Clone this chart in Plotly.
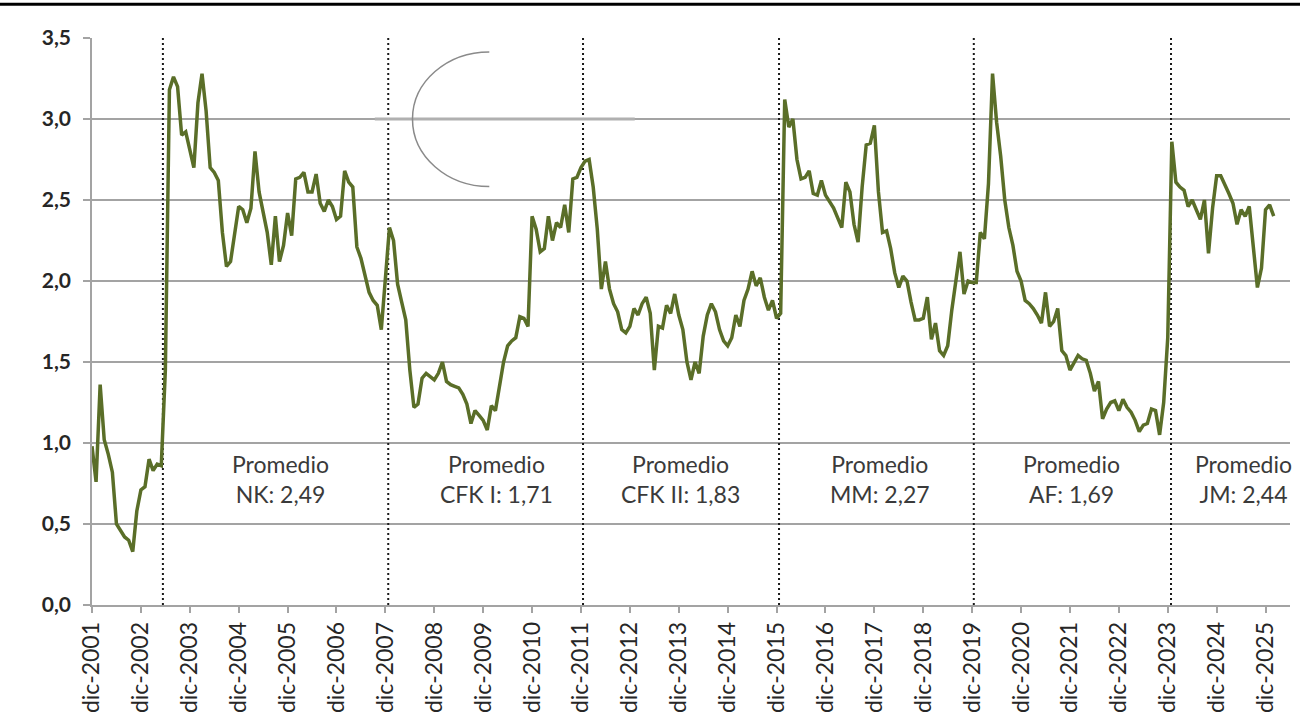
import plotly.graph_objects as go

# Monthly series, dic-2001 (index 0) ... feb-2026
values = [
    0.98, 0.76, 1.36, 1.02, 0.93, 0.82, 0.50, 0.46, 0.42, 0.40,
    0.33, 0.58, 0.71, 0.73, 0.90, 0.83, 0.87, 0.86, 1.45, 3.18,
    3.26, 3.20, 2.90, 2.92, 2.80, 2.70, 3.10, 3.28, 3.05, 2.70,
    2.67, 2.62, 2.30, 2.09, 2.12, 2.30, 2.46, 2.44, 2.36, 2.45,
    2.80, 2.55, 2.42, 2.30, 2.10, 2.40, 2.12, 2.22, 2.42, 2.28,
    2.63, 2.64, 2.67, 2.55, 2.55, 2.66, 2.48, 2.43, 2.50, 2.46,
    2.38, 2.40, 2.68, 2.61, 2.58, 2.21, 2.14, 2.03, 1.93, 1.88,
    1.85, 1.70, 2.01, 2.33, 2.25, 1.98, 1.87, 1.76, 1.45, 1.22,
    1.24, 1.40, 1.43, 1.41, 1.39, 1.43, 1.50, 1.38, 1.36, 1.35,
    1.34, 1.30, 1.24, 1.12, 1.20, 1.17, 1.14, 1.08, 1.23, 1.20,
    1.34, 1.50, 1.60, 1.63, 1.65, 1.78, 1.77, 1.72, 2.40, 2.32,
    2.18, 2.20, 2.40, 2.25, 2.36, 2.33, 2.47, 2.30, 2.63, 2.64,
    2.70, 2.74, 2.75, 2.58, 2.32, 1.95, 2.12, 1.95, 1.86, 1.81,
    1.70, 1.68, 1.72, 1.83, 1.79, 1.86, 1.90, 1.80, 1.45, 1.72,
    1.71, 1.85, 1.80, 1.92, 1.79, 1.70, 1.50, 1.39, 1.50, 1.43,
    1.66, 1.79, 1.86, 1.81, 1.70, 1.63, 1.60, 1.65, 1.79, 1.72,
    1.88, 1.95, 2.06, 1.97, 2.02, 1.90, 1.82, 1.88, 1.77, 1.80,
    3.12, 2.95, 3.00, 2.75, 2.63, 2.64, 2.68, 2.54, 2.53, 2.62,
    2.53, 2.49, 2.45, 2.39, 2.33, 2.61, 2.55, 2.35, 2.24, 2.58,
    2.84, 2.85, 2.96, 2.55, 2.30, 2.31, 2.20, 2.05, 1.96, 2.03,
    2.00, 1.87, 1.76, 1.76, 1.77, 1.90, 1.64, 1.74, 1.57, 1.54,
    1.60, 1.82, 1.99, 2.18, 1.92, 2.00, 1.99, 1.99, 2.30, 2.26,
    2.60, 3.28, 2.98, 2.77, 2.50, 2.33, 2.22, 2.06, 2.00, 1.88,
    1.86, 1.83, 1.79, 1.74, 1.93, 1.72, 1.75, 1.83, 1.57, 1.54,
    1.45, 1.50, 1.54, 1.52, 1.51, 1.43, 1.32, 1.38, 1.15, 1.21,
    1.25, 1.26, 1.20, 1.27, 1.22, 1.19, 1.14, 1.07, 1.11, 1.12,
    1.21, 1.20, 1.05, 1.25, 1.65, 2.86, 2.61, 2.58, 2.56, 2.46,
    2.50, 2.44, 2.38, 2.50, 2.17, 2.45, 2.65, 2.65, 2.60, 2.54,
    2.48, 2.35, 2.44, 2.40, 2.46, 2.21, 1.96, 2.08, 2.44, 2.47,
    2.40,
]
months = list(range(len(values)))

tick_years = list(range(2001, 2026))
tick_labels = [f"dic-{y}" for y in tick_years]
tick_months = [12 * (y - 2001) for y in tick_years]

# Government change markers (months since dic-2001)
gov_changes = [17.4, 72.7, 120.5, 168.6, 216.4, 264.8]

period_labels = ["NK: 2,49", "CFK I: 1,71", "CFK II: 1,83", "MM: 2,27", "AF: 1,69", "JM: 2,44"]
period_label_x = [46.3, 99.2, 144.5, 193.3, 240.3, 282.7]
period_label_y = 0.775

LINE_COLOR = "#5a6e28"
GRID = "#a3a3a3"

fig = go.Figure()
fig.add_trace(go.Scatter(
    x=months, y=values, mode="lines",
    line=dict(color=LINE_COLOR, width=3.5),
    hoverinfo="skip", showlegend=False,
))

shapes = []
for g in gov_changes:
    shapes.append(dict(type="line", xref="x", yref="y", x0=g, x1=g, y0=0, y1=3.5,
                       line=dict(color="#1a1a1a", width=2, dash="2px,3px"), layer="between"))

# top black rule
shapes.append(dict(type="line", xref="paper", yref="paper", x0=-0.08, x1=1.01,
                   y0=1.0596, y1=1.0596, line=dict(color="black", width=3)))
# image artifact: white oval with grey left rim and thicker gridline piece
shapes.append(dict(type="line", xref="x", yref="y", x0=69.4, x1=133.2, y0=3.0, y1=3.0,
                   line=dict(color="#b0b0b0", width=3), layer="between"))
shapes.append(dict(type="path", xref="x", yref="y",
                   path="M 97.5,3.414 C 87.1,3.414 78.65,3.23 78.65,3.0 "
                        "C 78.65,2.77 87.1,2.583 97.5,2.583",
                   line=dict(color="#8a8a8a", width=1.5)))

annotations = []
for lx, lt in zip(period_label_x, period_labels):
    annotations.append(dict(x=lx, y=period_label_y, xref="x", yref="y",
                            text=f"Promedio<br>{lt}", showarrow=False,
                            font=dict(family="Lato", size=23, color="#3a3a3a"),
                            align="center"))

fig.update_layout(
    width=1300, height=723,
    margin=dict(l=92, r=10, t=38, b=115),
    paper_bgcolor="white", plot_bgcolor="white",
    separators=",.",
    shapes=shapes, annotations=annotations,
    xaxis=dict(
        range=[0, 294.0], tickmode="array", tickvals=tick_months, ticktext=tick_labels,
        tickangle=-90, ticks="outside", ticklen=6, tickcolor=GRID, tickwidth=1.5,
        showline=True, linecolor=GRID, linewidth=1.5, showgrid=False, zeroline=False,
        tickfont=dict(family="Lato", size=23, color="#262626"),
    ),
    yaxis=dict(
        range=[0, 3.5], dtick=0.5, tick0=0, tickformat=".1f",
        ticks="outside", ticklen=7, tickcolor=GRID, tickwidth=1.5,
        showline=True, linecolor=GRID, linewidth=1.5,
        showgrid=True, gridcolor=GRID, gridwidth=1.5, zeroline=False,
        tickfont=dict(family="Lato", size=21, color="#262626", weight="bold"),
        ticklabelstandoff=8,
    ),
)

fig.write_html("out.html")
